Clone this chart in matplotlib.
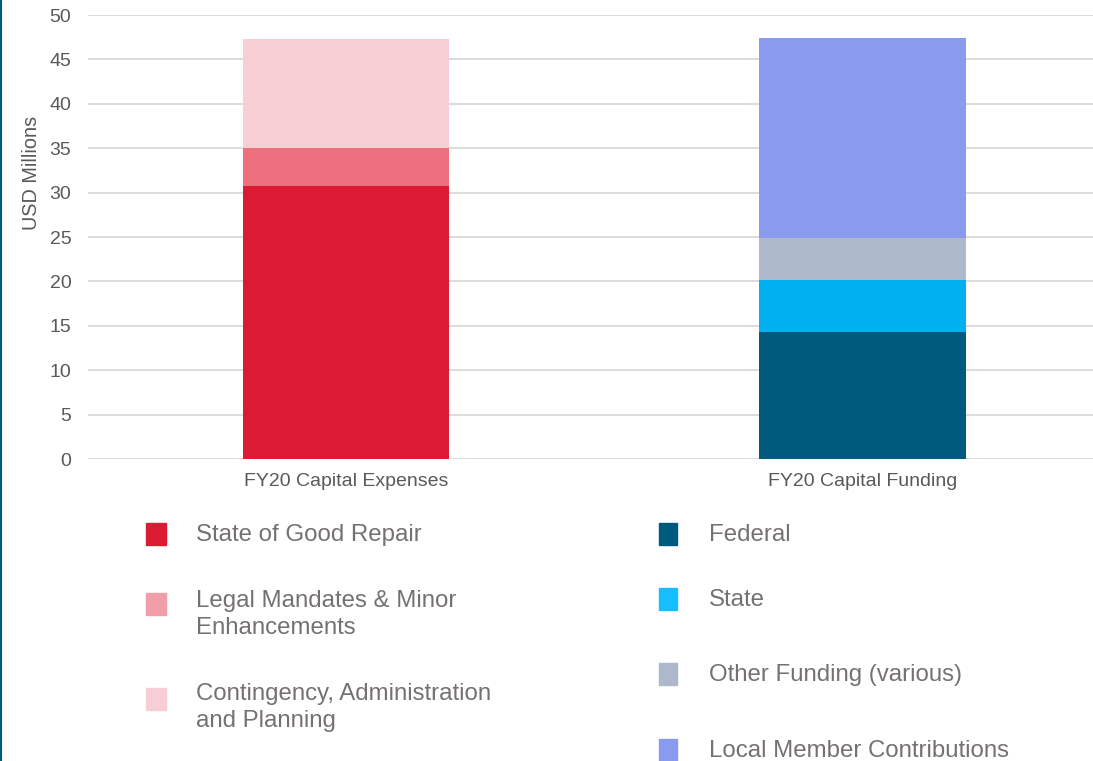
import matplotlib.pyplot as plt
from matplotlib.patches import Rectangle
from matplotlib.lines import Line2D

plt.rcParams['font.family'] = ['Liberation Sans', 'DejaVu Sans']

# Kategorier och staplade värden (USD miljoner)
categories = ["FY20 Capital Expenses", "FY20 Capital Funding"]

expense_labels = ["State of Good Repair", "Legal Mandates & Minor\nEnhancements",
                  "Contingency, Administration\nand Planning"]
expense_values = [30.7, 4.3, 12.3]
expense_colors = ["#DC1A33", "#EE6F7E", "#F8CED5"]
expense_legend_colors = ["#DC1A33", "#F29EA8", "#F8CED5"]

funding_labels = ["Federal", "State", "Other Funding (various)", "Local Member Contributions"]
funding_values = [14.3, 5.9, 4.7, 22.5]
funding_colors = ["#005A7E", "#00B0F0", "#ADB9CA", "#8A9AEE"]
funding_legend_colors = ["#005A7E", "#14BEFF", "#ADB9CA", "#8A9AEE"]

W, H = 1093, 761
fig = plt.figure(figsize=(W / 100, H / 100), dpi=100)
ax = fig.add_axes([88 / W, 1 - 459 / H, 1 - 88 / W, (459 - 15) / H])

bottom = 0
for v, c in zip(expense_values, expense_colors):
    ax.bar(0, v, bottom=bottom, width=0.4, color=c, zorder=3)
    bottom += v
bottom = 0
for v, c in zip(funding_values, funding_colors):
    ax.bar(1, v, bottom=bottom, width=0.4, color=c, zorder=3)
    bottom += v

ax.set_xlim(-0.5, 1.447)
ax.set_ylim(0, 50)
ax.set_yticks(range(0, 51, 5))
ax.set_xticks([0, 1])
ax.set_xticklabels(categories)
ax.grid(axis='y', color='#D9D9D9', linewidth=1.3, zorder=0)
for s in ax.spines.values():
    s.set_visible(False)
ax.tick_params(axis='both', length=0, labelsize=14, colors='#595959')
ax.tick_params(axis='y', pad=12)
ax.tick_params(axis='x', pad=10)
ax.set_ylabel("USD Millions", fontsize=14.3, color='#595959')
ax.yaxis.set_label_coords(-0.047, 0.644)

# Legend, två kolumner
def legend_item(x_box, w_box, y_box, x_text, y_text, color, label):
    fig.add_artist(Rectangle((x_box / W, 1 - (y_box + 11) / H), w_box / W, 22 / H,
                             color=color, transform=fig.transFigure))
    fig.text(x_text / W, 1 - y_text / H, label, fontsize=17.3, color='#767171',
             va='center', ha='left', linespacing=1.34)

for lab, col, yb, yt in zip(expense_labels, expense_legend_colors,
                            [534, 604, 699], [535, 614.5, 707.5]):
    legend_item(146, 20, yb, 196, yt, col, lab)

for lab, col, yb in zip(funding_labels, funding_legend_colors, [534, 599, 674, 750]):
    legend_item(659, 18, yb, 709, yb + 1, col, lab)

# Kantlinje till vänster
fig.add_artist(Line2D([1 / W, 1 / W], [0, 1], color='#005A80', linewidth=1.5,
                      transform=fig.transFigure))

fig.savefig("out.png", dpi=100)
